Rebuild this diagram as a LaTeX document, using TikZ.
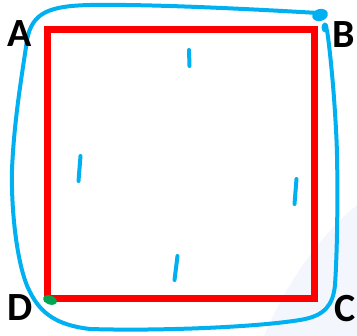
\documentclass[tikz,border=0pt]{standalone}
\usepackage{fontspec}
\setmainfont{Carlito}
\definecolor{penblue}{RGB}{0,176,240}
\definecolor{sqred}{RGB}{255,0,0}
\definecolor{dotgreen}{RGB}{0,166,81}
\definecolor{wmark}{RGB}{243,247,253}

\begin{document}
\begin{tikzpicture}[x=1pt,y=-1pt,
  corner/.style={font=\fontsize{40}{40}\selectfont\bfseries,inner sep=0pt},
  pen/.style={draw=penblue,line width=4pt,line cap=round,line join=round},
  tickmark/.style={draw=penblue,line width=4pt,line cap=round}]
\useasboundingbox (0,0) rectangle (357,336);
% faint background shape
\fill[wmark] (264,336) .. controls (285,285) and (320,235) .. (357,205) -- (357,336) -- cycle;
% square corners
\coordinate (a) at (47,29.5);
\coordinate (b) at (314.5,29.5);
\coordinate (c) at (314.5,298.5);
\coordinate (d) at (47,298.5);
\draw[sqred,line width=7pt] (a) -- (b) -- (c) -- (d) -- cycle;
% hand-drawn loop round the square
\draw[pen] (318,13) .. controls (250,9) and (150,4) .. (90,5)
  .. controls (50,6) and (32,12) .. (27,40)
  .. controls (22,75) and (14,120) .. (12,170)
  .. controls (11,215) and (18,270) .. (30,292)
  .. controls (40,312) and (55,325) .. (90,329)
  .. controls (150,331) and (250,328) .. (300,320)
  .. controls (325,316) and (333,305) .. (335,285)
  .. controls (338,240) and (338,160) .. (336,130)
  .. controls (334,90) and (330,50) .. (327,30);
\fill[penblue,rotate around={15:(320,15)}] (320,15) ellipse [x radius=8, y radius=6];
\fill[penblue] (325,27.5) ellipse [x radius=3.5, y radius=5];
\fill[dotgreen,rotate around={-20:(50,300)}] (50,300) ellipse [x radius=7, y radius=4.5];
% equal-side ticks
\draw[tickmark] (189,50) -- (189.5,66);
\draw[tickmark] (80.5,156) -- (78.5,181);
\draw[tickmark] (296.5,179) -- (294.5,204);
\draw[tickmark] (177.5,256) -- (174.5,280);
% labels
\node[corner] (lA) at (19.5,34) {A};
\node[corner] (lB) at (343.5,34.5) {B};
\node[corner] (lC) at (345,309) {C};
\node[corner] (lD) at (20,307.5) {D};
\end{tikzpicture}
\end{document}
